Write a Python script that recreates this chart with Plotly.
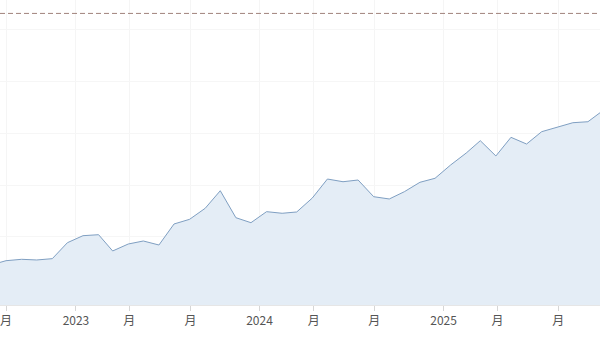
import plotly.graph_objects as go

# ---- data ----
dates = [
    "2022-07-15", "2022-08-15", "2022-09-15", "2022-10-15", "2022-11-15", "2022-12-15",
    "2023-01-15", "2023-02-15", "2023-03-15", "2023-04-15", "2023-05-15", "2023-06-15",
    "2023-07-15", "2023-08-15", "2023-09-15", "2023-10-15", "2023-11-15", "2023-12-15",
    "2024-01-15", "2024-02-15", "2024-03-15", "2024-04-15", "2024-05-15", "2024-06-15",
    "2024-07-15", "2024-08-15", "2024-09-15", "2024-10-15", "2024-11-15", "2024-12-15",
    "2025-01-15", "2025-02-15", "2025-03-15", "2025-04-15", "2025-05-15", "2025-06-15",
    "2025-07-15", "2025-08-15", "2025-09-15", "2025-10-15", "2025-11-15",
]
values = [
    14.6, 15.44, 15.71, 15.58, 15.83, 18.9,
    20.25, 20.44, 17.31, 18.65, 19.23, 18.46,
    22.5, 23.4, 25.52, 28.9, 23.71, 22.75,
    24.87, 24.56, 24.81, 27.5, 31.15, 30.63,
    30.96, 27.75, 27.31, 28.71, 30.52, 31.29,
    33.85, 36.15, 38.52, 35.58, 39.17, 37.88,
    40.25, 41.1, 41.98, 42.17, 44.4,
]
target_value = 63.0

tick_vals = ["2022-08-15", "2023-01-01", "2023-04-17", "2023-08-17", "2024-01-01",
             "2024-04-18", "2024-08-16", "2025-01-01", "2025-04-18", "2025-08-17"]
tick_text = ["月", "2023", "月", "月", "2024", "月", "月", "2025", "月", "月"]

x_range = ["2022-08-03", "2025-11-08"]
y_range = [6.92, 65.58]

fig = go.Figure()
fig.add_trace(go.Scatter(
    x=dates, y=values, mode="lines",
    line=dict(color="#7f9fc2", width=1),
    fill="tozeroy", fillcolor="#e4edf6",
    hoverinfo="skip", showlegend=False,
))
fig.add_hline(y=target_value, line=dict(color="#a0827c", width=1, dash="5px,3px"))

fig.update_layout(
    width=600, height=337,
    margin=dict(l=0, r=0, t=0, b=32),
    paper_bgcolor="white", plot_bgcolor="white",
    font=dict(family="Noto Sans CJK SC, sans-serif", size=12, color="#555555"),
)
fig.update_xaxes(
    type="date", range=x_range,
    tickmode="array", tickvals=tick_vals, ticktext=tick_text,
    ticks="outside", ticklen=5, tickcolor="#d6d6d6",
    showgrid=True, gridcolor="#f5f5f5", gridwidth=1,
    showline=True, linecolor="#e6e6e6", linewidth=1,
    tickfont=dict(size=12, color="#555555"),
    zeroline=False,
)
fig.update_yaxes(
    range=y_range, dtick=10, tick0=0,
    showgrid=True, gridcolor="#f6f6f6", gridwidth=1,
    showticklabels=False, zeroline=False, showline=False,
)

fig.write_html("out.html")
